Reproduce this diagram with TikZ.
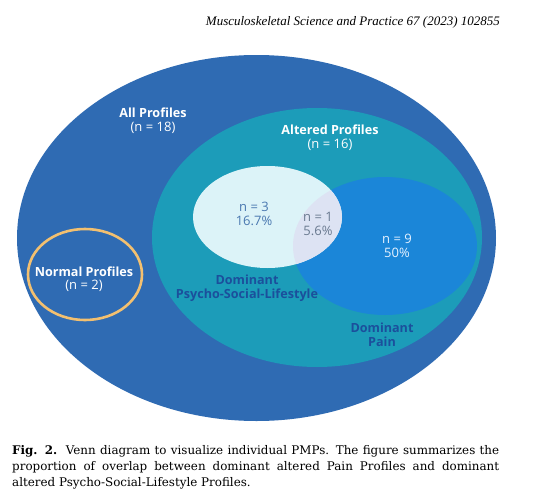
\documentclass[tikz,border=0pt]{standalone}
\usepackage{fontspec}
\setmainfont{DejaVu Serif}
\newfontfamily\hdrfont{Liberation Serif}
\newfontfamily\osans{Open Sans}
\usetikzlibrary{shapes.geometric}
\definecolor{outerblue}{HTML}{2F6BB3}
\definecolor{tealc}{HTML}{1C9CB9}
\definecolor{lightc}{HTML}{DCF3F8}
\definecolor{painc}{HTML}{1B86D8}
\definecolor{interc}{HTML}{DDE3F3}
\definecolor{orangec}{HTML}{F3C070}
\definecolor{darklab}{HTML}{1B4F9C}
\definecolor{nthree}{HTML}{4A78B0}
\definecolor{none}{HTML}{6A7A90}
\definecolor{nnine}{HTML}{E6F2FF}
\tikzset{
  lbl/.style={font=\osans\bfseries\fontsize{12.6}{14}\selectfont, align=center, inner sep=0pt},
  cnt/.style={font=\osans\fontsize{13}{14.2}\selectfont, align=center, inner sep=0pt},
  capline/.style={anchor=base west, inner sep=0pt, font=\fontsize{11.9}{14}\selectfont}
}
\begin{document}
\begin{tikzpicture}[x=1pt,y=-1pt]
\useasboundingbox (0,0) rectangle (542,504);
\fill[white] (0,0) rectangle (542,504);
% header
\node[anchor=base east, inner sep=0pt, font=\hdrfont\itshape\fontsize{13}{15}\selectfont] (hdr) at (500,25) {Musculoskeletal Science and Practice 67 (2023) 102855};
% ellipses
\fill[outerblue] (256.5,238) ellipse [x radius=239.5, y radius=183];
\fill[tealc] (317,237.5) ellipse [x radius=165, y radius=129.5];
\fill[painc] (385,246) ellipse [x radius=92, y radius=69];
\fill[lightc] (267.5,217) ellipse [x radius=74.5, y radius=51];
\begin{scope}
  \clip (385,246) ellipse [x radius=92, y radius=69];
  \fill[interc] (267.5,217) ellipse [x radius=74.5, y radius=51];
\end{scope}
\draw[orangec, line width=2.6pt] (85,274.5) ellipse [x radius=57, y radius=45.5];
% labels
\node[lbl, text=white] (all) at (153,113) {All Profiles};
\node[cnt, text=white] (alln) at (153,128) {(n = 18)};
\node[lbl, text=white] (alt) at (330,130) {Altered Profiles};
\node[cnt, text=white] (altn) at (330,145) {(n = 16)};
\node[cnt, text=nthree] (n3) at (254,214) {n = 3\\16.7\%};
\node[cnt, text=none] (n1) at (318,224) {n = 1\\5.6\%};
\node[cnt, text=nnine] (n9) at (397,246) {n = 9\\50\%};
\node[lbl, text=white] (norm) at (84,272) {Normal Profiles};
\node[cnt, text=white] (normn) at (84,286) {(n = 2)};
\node[lbl, text=darklab] (psl) at (247,288.5) {Dominant\\Psycho-Social-Lifestyle};
\node[lbl, text=darklab] (pain) at (382,335) {Dominant\\Pain};
% caption
\node[capline] (c1) at (12,454) {\makebox[487pt][s]{\textbf{Fig. 2.}\ \ Venn diagram to visualize individual PMPs. The figure summarizes the}};
\node[capline] (c2) at (12,470) {\makebox[487pt][s]{proportion of overlap between dominant altered Pain Profiles and dominant}};
\node[capline] (c3) at (12,486) {altered Psycho-Social-Lifestyle Profiles.};
\end{tikzpicture}
\end{document}
